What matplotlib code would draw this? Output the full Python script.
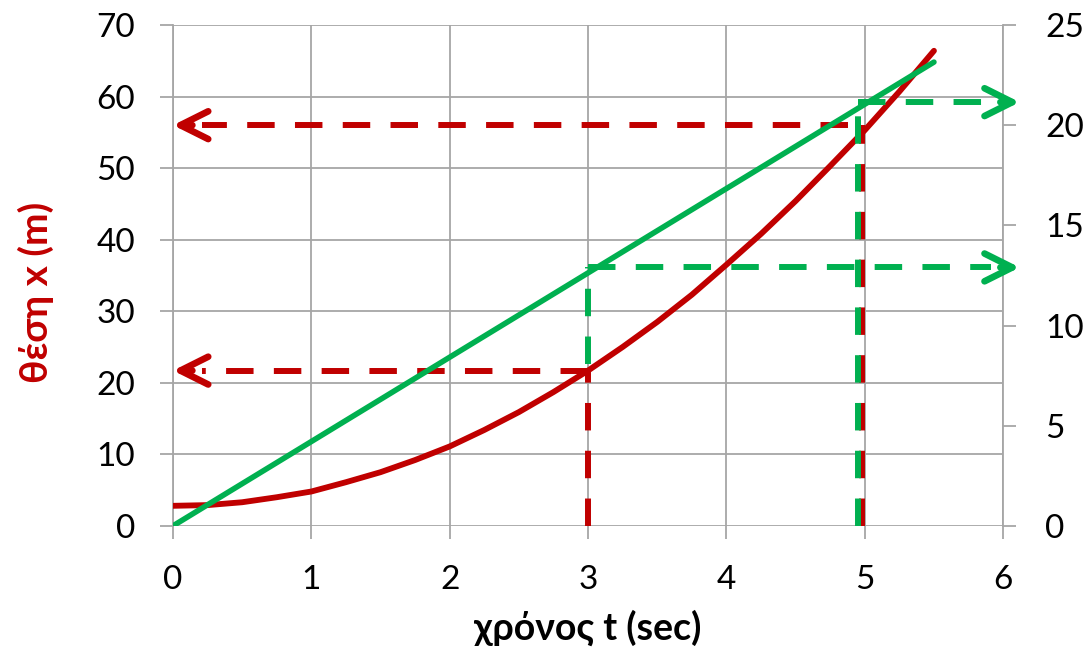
import matplotlib.pyplot as plt

# red curve: position x (m) vs time t (sec), left axis
t_pos = [0, 0.25, 0.5, 0.75, 1, 1.25, 1.5, 1.75, 2, 2.25, 2.5, 2.75,
         3, 3.25, 3.5, 3.75, 4, 4.25, 4.5, 4.75, 5, 5.25, 5.5]
x_pos = [2.8, 2.9, 3.3, 4.0, 4.8, 6.1, 7.5, 9.2, 11.1, 13.4, 15.9, 18.7,
         21.7, 25.0, 28.5, 32.3, 36.5, 40.8, 45.4, 50.3, 55.3, 60.7, 66.4]

# green line: right axis
t_vel = [0, 5.5]
v_vel = [0, 23.15]

# dashed guide lines
red_t = [3.0, 4.98]
red_x = [21.7, 56.0]
red_h_end = [3.0, 4.88]
green_t = [3.0, 4.95]
green_v = [12.9, 21.15]
green_v_bottom = [8.1, 0]
green_h_end = 6.12

red = '#c00000'
green = '#00b050'
grid_c = '#a6a6a6'

plt.rcParams['font.family'] = ['Lato', 'DejaVu Sans']

fig = plt.figure(figsize=(10.88, 6.5), dpi=100)
ax = fig.add_axes([0.159, 0.191, 0.763, 0.7705])
ax2 = ax.twinx()

ax.set_xlim(0, 6)
ax.set_ylim(0, 70)
ax2.set_ylim(0, 25)
ax.set_xticks(range(0, 7))
ax.set_yticks(range(0, 80, 10))
ax2.set_yticks(range(0, 30, 5))
ax.grid(True, color=grid_c, lw=1.3)
ax.set_axisbelow(True)

for a in (ax, ax2):
    for s in a.spines.values():
        s.set_visible(False)
    a.tick_params(length=9.5, width=1.3, color=grid_c, labelsize=24)
ax.spines['left'].set_visible(True)
ax.spines['left'].set_color(grid_c)
ax.spines['left'].set_linewidth(1.3)
ax2.spines['right'].set_visible(True)
ax2.spines['right'].set_color(grid_c)
ax2.spines['right'].set_linewidth(1.3)
ax.tick_params(axis='y', pad=18)
ax.tick_params(axis='x', pad=19)
ax2.tick_params(axis='y', pad=21)

ax.set_xlabel('χρόνος t (sec)', fontsize=27, fontweight='bold', labelpad=10)
ax.set_ylabel('θέση x (m)', fontsize=28, fontweight='bold', color=red,
              labelpad=30, y=0.467)

dash = (0, (4.6, 3.4))
lw_d = 4.3
head = '->, head_length=1.0, head_width=0.5'

# red guides
for tt, xx, he in zip(red_t, red_x, red_h_end):
    ax.plot([tt, tt], [0, xx], color=red, lw=lw_d, linestyle=dash, zorder=3)
    ax.plot([he, 0.21], [xx, xx], color=red, lw=lw_d, linestyle=dash, zorder=3)
    ax.annotate('', xy=(0, xx), xytext=(0.14, xx),
                arrowprops=dict(arrowstyle=head, mutation_scale=20,
                                color=red, lw=lw_d + 0.5, shrinkA=0, shrinkB=0),
                zorder=4)

# green guides
for tt, vv, vb in zip(green_t, green_v, green_v_bottom):
    ax2.plot([tt, tt], [vb, vv], color=green, lw=lw_d, linestyle=dash, zorder=3)
    ax2.plot([tt, green_h_end - 0.21], [vv, vv], color=green, lw=lw_d, linestyle=dash,
             zorder=3, clip_on=False)
    ax2.annotate('', xy=(green_h_end, vv), xytext=(green_h_end - 0.14, vv),
                 arrowprops=dict(arrowstyle=head, mutation_scale=20,
                                 color=green, lw=lw_d + 0.5, shrinkA=0, shrinkB=0),
                 annotation_clip=False, zorder=4)

ax.plot(t_pos, x_pos, color=red, lw=4.2, zorder=5, solid_capstyle='round')
ax2.plot(t_vel, v_vel, color=green, lw=4.0, zorder=5, solid_capstyle='round')

fig.savefig('out.png', dpi=100)
